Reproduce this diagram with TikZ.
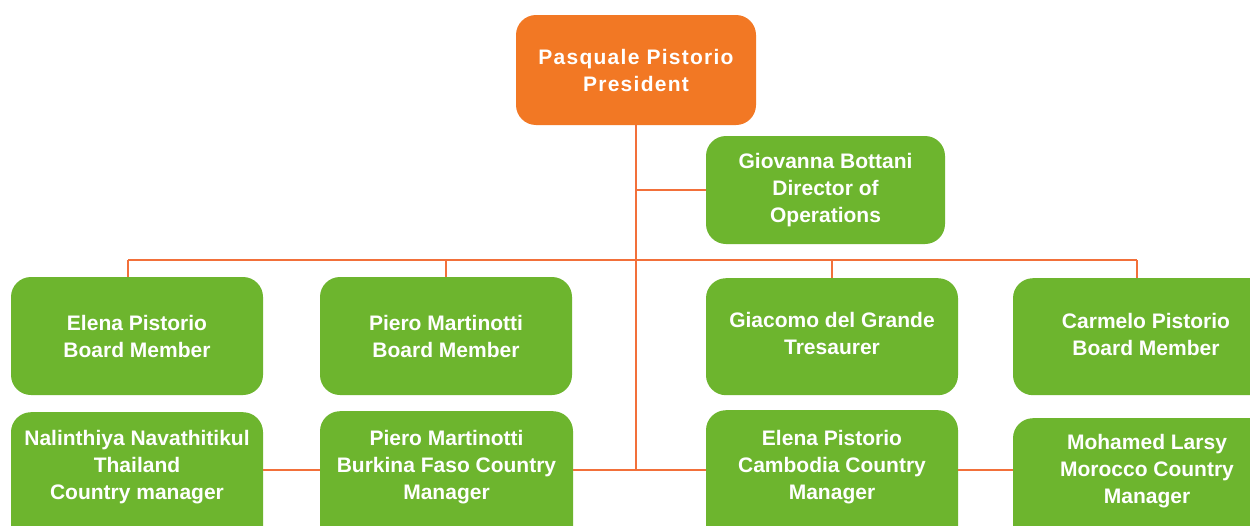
\documentclass[tikz,border=0pt]{standalone}
\usepackage{fontspec}
\setmainfont{Liberation Sans}
\definecolor{orgbox}{HTML}{F27824}
\definecolor{grnbox}{HTML}{6DB52E}
\definecolor{lnc}{HTML}{F2703A}
\tikzset{
  box/.style={rounded corners=20pt, inner sep=0pt, text=white, align=center,
    font=\bfseries\fontsize{21}{27}\selectfont},
  obox/.style={box, fill=orgbox},
  gbox/.style={box, fill=grnbox},
  txt/.style={inner sep=0pt, text=white, align=center,
    font=\bfseries\fontsize{21}{27}\selectfont},
  conn/.style={draw=lnc, line width=1.8pt},
}
\begin{document}
\begin{tikzpicture}[x=1pt,y=-1pt]
\useasboundingbox (0,0) rectangle (1250,525);
\clip (0,0) rectangle (1250,525);
\fill[white] (0,0) rectangle (1250,525);
\coordinate (barL) at (128,260);
\coordinate (barR) at (1137,260);
\coordinate (bus) at (636,470);
% nodes
\node[obox, minimum width=240, minimum height=110] (pres) at (636,70)
  {\addfontfeature{LetterSpace=6}Pasquale Pistorio\\\addfontfeature{LetterSpace=6}President};
\node[gbox, minimum width=239, minimum height=108] (gio) at (825.5,190)
  {Giovanna Bottani\\Director of\\Operations};
\node[gbox, minimum width=252, minimum height=118] (elena) at (137,336)
  {Elena Pistorio\\Board Member};
\node[gbox, minimum width=252, minimum height=118] (piero) at (446,336)
  {Piero Martinotti\\Board Member};
\node[gbox, minimum width=252, minimum height=117, anchor=north] (giac) at (832,278) {};
\node[txt] (giacT) at (832,333) {Giacomo del Grande\\Tresaurer};
\node[gbox, minimum width=266, minimum height=117, anchor=north] (carm) at (1146,278) {};
\node[txt] (carmT) at (1146,334) {Carmelo Pistorio\\Board Member};
\node[gbox, minimum width=252, minimum height=160, anchor=north] (nal) at (137,412) {};
\node[txt] (nalT) at (137,467) {Nalinthiya Navathitikul\\Thailand\\Country manager};
\node[gbox, minimum width=253, minimum height=160, anchor=north] (pbf) at (446.5,411) {};
\node[txt] (pbfT) at (446.5,467) {Piero Martinotti\\Burkina Faso Country\\Manager};
\node[gbox, minimum width=252, minimum height=160, anchor=north] (elc) at (832,410) {};
\node[txt] (elcT) at (832,467) {Elena Pistorio\\Cambodia Country\\Manager};
\node[gbox, minimum width=266, minimum height=160, anchor=north] (moh) at (1146,418) {};
\node[txt] (mohT) at (1147,471) {Mohamed Larsy\\Morocco Country\\Manager};
% connectors
\draw[conn] (pres.south) -- (pres.south |- bus);
\draw[conn] (pres.south |- gio.west) -- (gio.west);
\draw[conn] (barL) -- (barR);
\draw[conn] (barL) -- (barL |- elena.north);
\draw[conn] (piero.north |- barL) -- (piero.north);
\draw[conn] (giac.north |- barL) -- (giac.north);
\draw[conn] (barR) -- (barR |- carm.north);
\draw[conn] (pbf.east |- bus) -- (elc.west |- bus);
\draw[conn] (nal.east |- bus) -- (pbf.west |- bus);
\draw[conn] (elc.east |- bus) -- (moh.west |- bus);
\end{tikzpicture}
\end{document}
